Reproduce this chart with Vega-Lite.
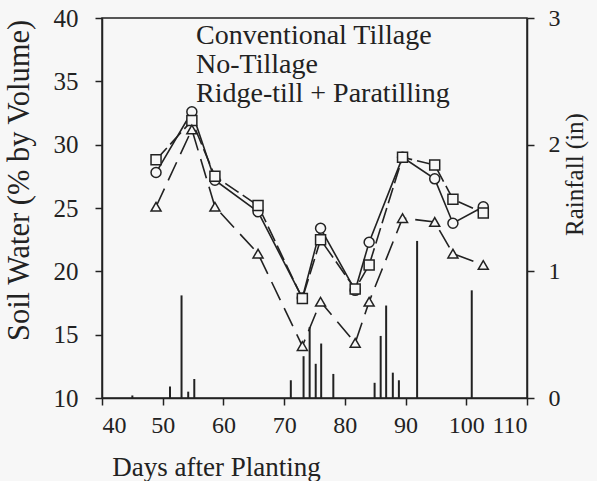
{
  "$schema": "https://vega.github.io/schema/vega-lite/v6.json",
  "width": 425,
  "height": 380,
  "autosize": {"type": "none"},
  "padding": {"left": 102, "top": 18, "right": 70, "bottom": 83},
  "background": "#f7f7f7",
  "config": {
    "view": {"stroke": "#222", "strokeWidth": 1.5},
    "font": "Liberation Serif",
    "axis": {"domainColor": "#222", "domainWidth": 1.5, "tickColor": "#222", "tickWidth": 1.5, "tickSize": 7, "grid": false, "labelFont": "Liberation Serif", "titleFont": "Liberation Serif", "labelColor": "#222", "titleColor": "#222", "titleFontWeight": "normal"}
  },
  "datasets": {
    "sw": [
      {"day": 48.9, "sw": 27.8, "series": "Conventional Tillage"},
      {"day": 54.8, "sw": 32.6, "series": "Conventional Tillage"},
      {"day": 58.6, "sw": 27.2, "series": "Conventional Tillage"},
      {"day": 65.7, "sw": 24.7, "series": "Conventional Tillage"},
      {"day": 73.0, "sw": 17.9, "series": "Conventional Tillage"},
      {"day": 76.0, "sw": 23.4, "series": "Conventional Tillage"},
      {"day": 81.7, "sw": 18.5, "series": "Conventional Tillage"},
      {"day": 84.0, "sw": 22.3, "series": "Conventional Tillage"},
      {"day": 89.5, "sw": 29.0, "series": "Conventional Tillage"},
      {"day": 94.8, "sw": 27.3, "series": "Conventional Tillage"},
      {"day": 97.8, "sw": 23.8, "series": "Conventional Tillage"},
      {"day": 102.8, "sw": 25.1, "series": "Conventional Tillage"},
      {"day": 48.9, "sw": 28.8, "series": "No-Tillage"},
      {"day": 54.8, "sw": 31.9, "series": "No-Tillage"},
      {"day": 58.6, "sw": 27.5, "series": "No-Tillage"},
      {"day": 65.7, "sw": 25.2, "series": "No-Tillage"},
      {"day": 73.0, "sw": 17.85, "series": "No-Tillage"},
      {"day": 76.0, "sw": 22.5, "series": "No-Tillage"},
      {"day": 81.7, "sw": 18.6, "series": "No-Tillage"},
      {"day": 84.0, "sw": 20.5, "series": "No-Tillage"},
      {"day": 89.5, "sw": 29.0, "series": "No-Tillage"},
      {"day": 94.8, "sw": 28.4, "series": "No-Tillage"},
      {"day": 97.8, "sw": 25.7, "series": "No-Tillage"},
      {"day": 102.8, "sw": 24.6, "series": "No-Tillage"},
      {"day": 48.9, "sw": 25.1, "series": "Ridge-till + Paratilling"},
      {"day": 54.8, "sw": 31.2, "series": "Ridge-till + Paratilling"},
      {"day": 58.6, "sw": 25.1, "series": "Ridge-till + Paratilling"},
      {"day": 65.7, "sw": 21.4, "series": "Ridge-till + Paratilling"},
      {"day": 73.0, "sw": 14.1, "series": "Ridge-till + Paratilling"},
      {"day": 76.0, "sw": 17.6, "series": "Ridge-till + Paratilling"},
      {"day": 81.7, "sw": 14.35, "series": "Ridge-till + Paratilling"},
      {"day": 84.0, "sw": 17.6, "series": "Ridge-till + Paratilling"},
      {"day": 89.5, "sw": 24.2, "series": "Ridge-till + Paratilling"},
      {"day": 94.8, "sw": 23.9, "series": "Ridge-till + Paratilling"},
      {"day": 97.8, "sw": 21.4, "series": "Ridge-till + Paratilling"},
      {"day": 102.8, "sw": 20.5, "series": "Ridge-till + Paratilling"}
    ],
    "rain": [
      {"day": 45.0, "rain": 0.02},
      {"day": 51.2, "rain": 0.09},
      {"day": 53.1, "rain": 0.81},
      {"day": 54.2, "rain": 0.05},
      {"day": 55.2, "rain": 0.15},
      {"day": 71.1, "rain": 0.14},
      {"day": 73.2, "rain": 0.33},
      {"day": 74.2, "rain": 0.56},
      {"day": 75.2, "rain": 0.27},
      {"day": 76.1, "rain": 0.43},
      {"day": 78.1, "rain": 0.19},
      {"day": 84.9, "rain": 0.12},
      {"day": 85.9, "rain": 0.49},
      {"day": 86.8, "rain": 0.73},
      {"day": 87.9, "rain": 0.2},
      {"day": 88.9, "rain": 0.14},
      {"day": 91.9, "rain": 1.24},
      {"day": 100.9, "rain": 0.85}
    ]
  },
  "layer": [
    {
      "data": {"name": "rain"},
      "mark": {"type": "rule", "color": "#222", "strokeWidth": 2},
      "encoding": {
        "x": {"field": "day", "type": "quantitative", "scale": {"domain": [40, 110], "nice": false}, "axis": {"values": [40, 50, 60, 70, 80, 90, 100, 110], "labelFontSize": 24, "labelPadding": 8, "title": "Days after Planting", "titleFontSize": 27, "titleX": 114, "titleY": 77, "titleBaseline": "alphabetic", "titleAlign": "center"}},
        "y": {"field": "rain", "type": "quantitative", "scale": {"domain": [0, 3], "nice": false}, "axis": {"orient": "right", "values": [0, 1, 2, 3], "labelFontSize": 24, "labelPadding": 14, "title": "Rainfall (in)", "titleFontSize": 25, "titleAngle": 270, "titleX": 55, "titleY": 156, "titleBaseline": "alphabetic", "titleAlign": "center"}},
        "y2": {"datum": 0}
      }
    },
    {
      "data": {"name": "sw"},
      "encoding": {
        "x": {"field": "day", "type": "quantitative", "scale": {"domain": [40, 110], "nice": false}},
        "y": {"field": "sw", "type": "quantitative", "scale": {"domain": [10, 40], "nice": false}, "axis": {"values": [10, 15, 20, 25, 30, 35, 40], "labelFontSize": 25, "labelPadding": 17, "title": "Soil Water (% by Volume)", "titleFontSize": 30.5, "titleAngle": 270, "titleX": -74, "titleY": 162, "titleBaseline": "alphabetic", "titleAlign": "center"}}
      },
      "layer": [
        {
          "transform": [{"filter": "datum.series === 'Conventional Tillage'"}],
          "mark": {"type": "line", "color": "#222", "strokeWidth": 1.6}
        },
        {
          "transform": [{"filter": "datum.series === 'No-Tillage'"}],
          "mark": {"type": "line", "color": "#222", "strokeWidth": 1.6, "strokeDash": [16, 5]}
        },
        {
          "transform": [{"filter": "datum.series === 'Ridge-till + Paratilling'"}],
          "mark": {"type": "line", "color": "#222", "strokeWidth": 1.6, "strokeDash": [20, 9]}
        },
        {
          "mark": {"type": "point", "filled": true, "fill": "#f7f7f7", "stroke": "#222", "strokeWidth": 1.5, "size": 100, "opacity": 1},
          "encoding": {
            "shape": {"field": "series", "type": "nominal", "scale": {"domain": ["Conventional Tillage", "No-Tillage", "Ridge-till + Paratilling"], "range": ["circle", "square", "triangle-up"]}, "legend": null}
          }
        },
        {
          "transform": [{"filter": "datum.day < 0"}],
          "mark": {"type": "point", "filled": true, "fill": "#f7f7f7", "stroke": "#222", "strokeWidth": 1.4, "size": 4, "opacity": 1},
          "encoding": {
            "shape": {"field": "series", "type": "nominal",
              "scale": {"domain": ["Conventional Tillage", "No-Tillage", "Ridge-till + Paratilling"], "range": ["M-33,0H-4.5M4.5,0H32M-4.5,0A4.5,4.5,0,1,1,4.5,0A4.5,4.5,0,1,1,-4.5,0Z", "M-33,0H-5M-5,-5H5V5H-5ZM15,0H32", "M-33,0H-3.85M3.85,0H32M-5.5,3L0,-7L5.5,3Z"]},
              "legend": {"orient": "none", "legendX": 35, "legendY": 4, "title": null, "labelFont": "Liberation Serif", "labelFontSize": 28, "labelColor": "#222", "labelOffset": 31, "labelLimit": 400, "symbolSize": 4, "symbolOpacity": 1, "symbolFillColor": "#f7f7f7", "symbolStrokeColor": "#222", "symbolStrokeWidth": 1.4, "rowPadding": 1, "padding": 0}
            }
          }
        }
      ],
      "resolve": {"scale": {"shape": "independent"}}
    }
  ],
  "resolve": {"scale": {"y": "independent"}, "axis": {"y": "independent"}}
}
